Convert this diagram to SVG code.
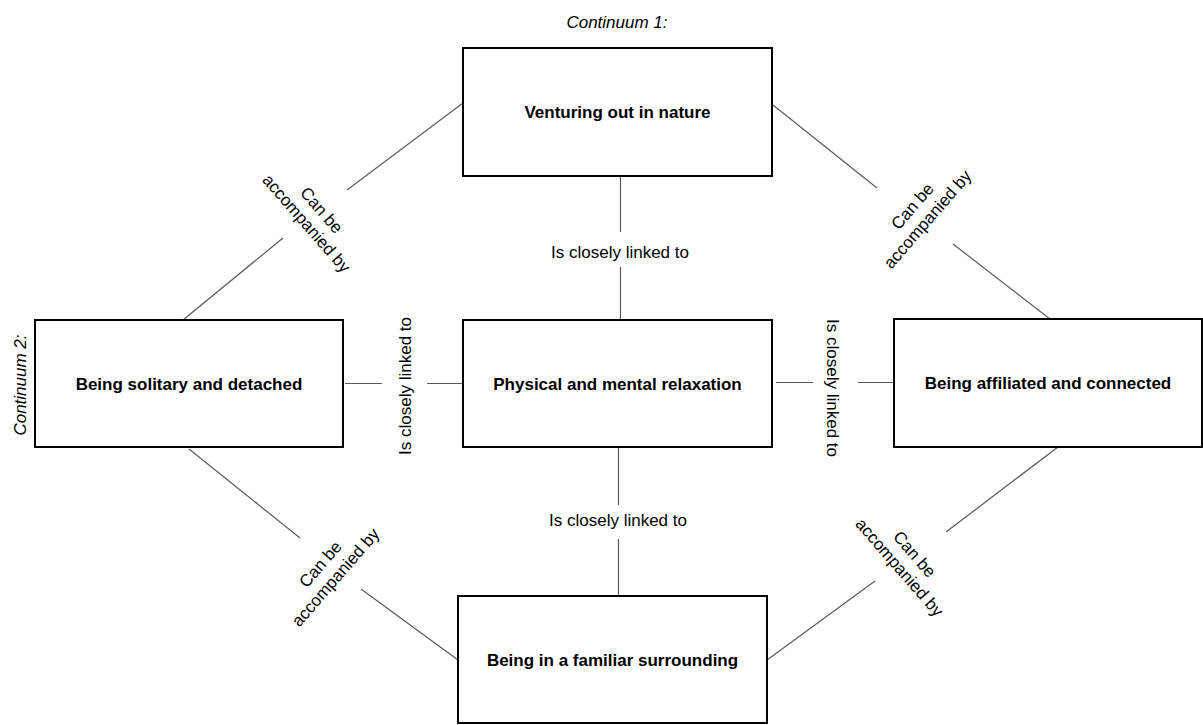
<svg xmlns="http://www.w3.org/2000/svg" width="1203" height="725" viewBox="0 0 1203 725">
<style>
  .box { fill: #ffffff; stroke: #000000; stroke-width: 2; }
  .bt { font-family: "Liberation Sans", Arial, sans-serif; font-size: 17px; font-weight: bold; fill: #000; text-anchor: middle; }
  .lt { font-family: "Liberation Sans", Arial, sans-serif; font-size: 17px; fill: #000; text-anchor: middle; }
  .it { font-family: "Liberation Sans", Arial, sans-serif; font-size: 17px; font-style: italic; fill: #000; text-anchor: middle; }
  .conn line { stroke: #595959; stroke-width: 1.2; }
</style>
<rect width="1203" height="725" fill="#ffffff"/>
<g id="connectors" class="conn">
  <line x1="620.5" y1="176" x2="620.5" y2="232"/>
  <line x1="620.5" y1="267" x2="620.5" y2="320"/>
  <line x1="618.5" y1="447" x2="618.5" y2="505"/>
  <line x1="618.5" y1="539" x2="618.5" y2="596"/>
  <line x1="345" y1="383.5" x2="382" y2="383.5"/>
  <line x1="427" y1="383.5" x2="463" y2="383.5"/>
  <line x1="776" y1="382.5" x2="813" y2="382.5"/>
  <line x1="858" y1="382.5" x2="894" y2="382.5"/>
  <line x1="463" y1="103" x2="347" y2="190"/>
  <line x1="283" y1="238" x2="183" y2="320"/>
  <line x1="773" y1="105" x2="877" y2="188"/>
  <line x1="953" y1="244" x2="1050" y2="319"/>
  <line x1="189" y1="449" x2="300" y2="538"/>
  <line x1="361" y1="589" x2="458" y2="660"/>
  <line x1="1058" y1="447" x2="946" y2="532"/>
  <line x1="875" y1="581" x2="767" y2="660"/>
</g>
<g id="connector-labels">
  <text class="lt" x="620" y="258">Is closely linked to</text>
  <text class="lt" x="618" y="526">Is closely linked to</text>
  <text class="lt" transform="translate(411,386) rotate(-90)" x="0" y="0">Is closely linked to</text>
  <text class="lt" transform="translate(827,388) rotate(90)" x="0" y="0">Is closely linked to</text>
  <g transform="translate(315,216) rotate(49)">
    <text class="lt" x="0" y="-3">Can be</text>
    <text class="lt" x="0" y="17">accompanied by</text>
  </g>
  <g transform="translate(919,212) rotate(-49)">
    <text class="lt" x="0" y="-3">Can be</text>
    <text class="lt" x="0" y="17">accompanied by</text>
  </g>
  <g transform="translate(327,570) rotate(-49)">
    <text class="lt" x="0" y="-3">Can be</text>
    <text class="lt" x="0" y="17">accompanied by</text>
  </g>
  <g transform="translate(908,560) rotate(49)">
    <text class="lt" x="0" y="-3">Can be</text>
    <text class="lt" x="0" y="17">accompanied by</text>
  </g>
</g>
<text id="continuum1" class="it" x="617" y="28">Continuum 1:</text>
<text id="continuum2" class="it" transform="translate(26,385) rotate(-90)" x="0" y="0">Continuum 2:</text>
<g id="node-nature">
  <rect class="box" x="463" y="48" width="309" height="128"/>
  <text class="bt" x="617.5" y="118">Venturing out in nature</text>
</g>
<g id="node-relaxation">
  <rect class="box" x="463" y="320" width="309" height="127"/>
  <text class="bt" x="617.5" y="389.5">Physical and mental relaxation</text>
</g>
<g id="node-solitary">
  <rect class="box" x="35" y="320" width="308" height="127"/>
  <text class="bt" x="189" y="389.5">Being solitary and detached</text>
</g>
<g id="node-affiliated">
  <rect class="box" x="894" y="319" width="308" height="128"/>
  <text class="bt" x="1048" y="389">Being affiliated and connected</text>
</g>
<g id="node-familiar">
  <rect class="box" x="458" y="596" width="309" height="127"/>
  <text class="bt" x="612.5" y="665.5">Being in a familiar surrounding</text>
</g>
</svg>
